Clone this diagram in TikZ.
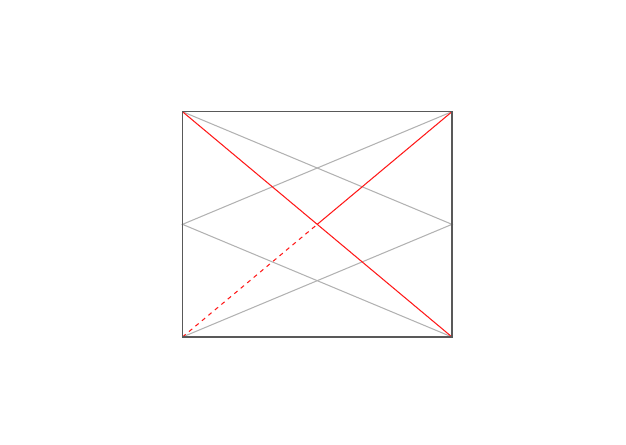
\documentclass[tikz,border=0pt]{standalone}
\usepackage{tikz}
\usetikzlibrary{calc,positioning}

\begin{document}
\begin{tikzpicture}[line width=0.3pt]
		\useasboundingbox (0,0) rectangle (6.26,4.44);
		\begin{scope}[shift={(1.825,1.07)}] %around the box
		\coordinate (bl) at (0,0);
		\coordinate (br) at (2.695,0);
		\coordinate (tr) at (2.695,2.253);
		\coordinate (tl) at (0,2.253);
		\coordinate (lm) at ($(bl)!0.5!(tl)$);
		\coordinate (rm) at ($(br)!0.5!(tr)$);
		\coordinate (c) at ($(bl)!0.5!(tr)$);
		% gray fan lines
		\draw [black!30] (tl) -- (rm) -- (bl);
		\draw [black!30] (tr) -- (lm) -- (br);
		% red diagonals
		\draw [red!90] (tl) -- (br);
		\draw [red!90, dash pattern=on 1.2pt off 1.2pt] (bl) -- (c);
		\draw [red!90] (c) -- (tr);
		\draw [black!65] (bl) rectangle (tr);
		\end{scope}%around the box
		\end{tikzpicture}
\end{document}
